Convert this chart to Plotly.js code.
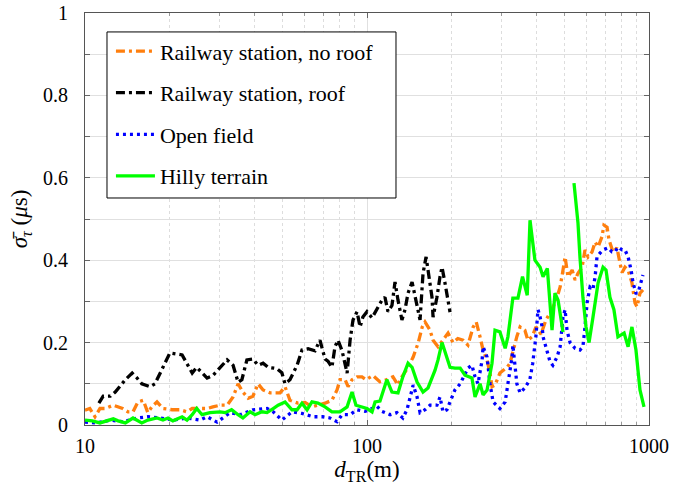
<!DOCTYPE html>
<html>
<head>
<meta charset="utf-8">
<script src="https://cdn.plot.ly/plotly-3.0.1.min.js"></script>
<style>
  html, body { margin: 0; padding: 0; background: #fff; }
  #chart { width: 678px; height: 493px; }
</style>
</head>
<body>
<div id="chart"></div>
<script>
// Mean RMS delay spread versus Tx-Rx distance for four environments.

// Railway station, no roof
const noRoofD = [10.0, 10.4, 10.85, 11.3, 11.8, 12.6, 13.6, 14.2, 14.8, 15.4, 16.1, 16.7, 17.3, 18.0, 18.9,
  20.4, 21.7, 23.0, 24.0, 25.2, 27.1, 28.4, 30.1, 31.9, 33.5, 34.9, 36.3, 37.9, 39.4, 41.1, 42.8, 45.3,
  49.2, 51.2, 53.3, 56.9, 60.3, 63.8, 67.0, 71.0, 75.1, 78.3, 80.2, 83.6, 85.7, 88.5, 92.2, 96.0, 99.2,
  105, 111, 117.6, 123.6, 128.8, 133, 139.8, 145.8, 152, 157, 160.6, 167.3, 171.5, 178.6, 186, 193.8,
  201.8, 210, 219, 228, 238, 244, 251.7, 258, 266.5, 273, 277.5, 284.4, 296, 303.6, 313.8, 321.5, 329,
  340, 349, 363, 372, 385, 397.5, 414, 431, 453, 472, 484, 495.5, 504, 516, 534, 547, 560, 579, 593,
  608, 628, 644, 660, 681, 692, 710, 721, 745, 770, 789, 803, 822, 843, 870, 892, 907, 929, 952];
const noRoofS = [0.036, 0.04, 0.02, 0.04, 0.04, 0.048, 0.04, 0.032, 0.032, 0.056, 0.06, 0.03, 0.045, 0.056, 0.04,
  0.037, 0.037, 0.032, 0.04, 0.04, 0.04, 0.044, 0.048, 0.048, 0.068, 0.10, 0.08, 0.065, 0.07, 0.10, 0.085, 0.078,
  0.078, 0.093, 0.06, 0.053, 0.055, 0.044, 0.048, 0.053, 0.06, 0.085, 0.11, 0.11, 0.093, 0.11, 0.117, 0.117, 0.11,
  0.12, 0.105, 0.11, 0.117, 0.097, 0.117, 0.14, 0.165, 0.20, 0.238, 0.25, 0.23, 0.206, 0.19, 0.206, 0.223,
  0.20, 0.21, 0.206, 0.194, 0.238, 0.25, 0.214, 0.182, 0.158, 0.126, 0.093, 0.097, 0.126, 0.133, 0.14, 0.15, 0.18,
  0.215, 0.238, 0.23, 0.206, 0.214, 0.238, 0.22, 0.255, 0.28, 0.31, 0.335, 0.376, 0.408, 0.36, 0.376, 0.352, 0.368, 0.383, 0.425,
  0.408, 0.42, 0.444, 0.432, 0.457, 0.485, 0.48, 0.45, 0.42, 0.43, 0.393, 0.37, 0.383, 0.376, 0.345, 0.296, 0.287, 0.32, 0.328];

// Railway station, roof
const roofD = [11.2, 11.6, 12.3, 12.8, 13.9, 14.7, 15.3, 15.9, 17.0, 17.7, 18.9, 20.0, 22.1, 23.0, 24.0, 24.9,
  26.0, 27.1, 28.4, 30.1, 31.9, 33.5, 34.9, 36.0, 37.5, 39.4, 41.1, 42.8, 44.6, 47.9, 49.9, 51.2, 53.3,
  56.5, 58.8, 61.8, 65.4, 68.1, 71.0, 72.7, 75.1, 77.0, 78.9, 81.6, 85.0, 87.1, 89.2, 92.2, 94.5, 96.7,
  100, 104.2, 109.5, 113, 115.8, 118.7, 122.6, 125.7, 128.8, 133, 136.4, 139.8, 144.5, 148, 154.2, 158,
  162, 164.6, 170, 171.5, 177, 181.5, 184.5, 189, 197];
const roofS = [0.053, 0.07, 0.07, 0.08, 0.11, 0.126, 0.114, 0.10, 0.093, 0.10, 0.14, 0.175, 0.17, 0.15, 0.126, 0.14,
  0.126, 0.114, 0.12, 0.14, 0.158, 0.145, 0.104, 0.11, 0.158, 0.16, 0.145, 0.15, 0.14, 0.137, 0.127, 0.10, 0.11,
  0.145, 0.182, 0.185, 0.18, 0.206, 0.16, 0.155, 0.14, 0.19, 0.206, 0.18, 0.126, 0.206, 0.255, 0.275, 0.238, 0.262,
  0.275, 0.26, 0.287, 0.303, 0.31, 0.275, 0.29, 0.347, 0.303, 0.255, 0.28, 0.32, 0.347, 0.31, 0.255, 0.368,
  0.408, 0.376, 0.31, 0.262, 0.31, 0.36, 0.383, 0.345, 0.274];

// Open field
const openD = [10.0, 11.0, 12.3, 13.6, 15.3, 16.7, 18.5, 20.5, 23.0, 25.6, 27.1, 29.4, 32.7, 35.5, 39.4, 44.2,
  46.5, 49.9, 54.2, 58.8, 64.4, 69.8, 73.9, 78.3, 81.6, 87.1, 92.2, 98.4, 104.2, 108.6, 113, 120.7, 127.7,
  134, 138.6, 142, 145.8, 150.5, 154.2, 160.6, 167.3, 177, 181.5, 186, 192, 197, 205, 214, 222.6, 228,
  235.6, 241.6, 247.5, 256, 258, 266.5, 273, 280, 296, 309, 316, 327, 329, 335, 340, 349, 363, 378, 387,
  397, 404, 411, 418, 421, 436, 446, 456, 472, 484, 495.5, 504, 512, 525, 547, 569, 583, 593, 603, 618,
  633, 644, 654, 670, 687, 716, 739, 758, 776, 803, 822, 843, 864, 878, 899, 914, 937, 952];
const openS = [0.007, 0.005, 0.012, 0.008, 0.017, 0.02, 0.017, 0.012, 0.017, 0.012, 0.02, 0.007, 0.03, 0.025, 0.037, 0.04,
  0.032, 0.012, 0.032, 0.028, 0.02, 0.02, 0.017, 0.008, 0.025, 0.025, 0.037, 0.033, 0.04, 0.045, 0.033, 0.025, 0.03,
  0.017, 0.037, 0.068, 0.097, 0.068, 0.03, 0.037, 0.048, 0.048, 0.068, 0.032, 0.037, 0.056, 0.085, 0.10, 0.126, 0.138,
  0.145, 0.117, 0.10, 0.158, 0.19, 0.165, 0.10, 0.056, 0.04, 0.056, 0.10, 0.165, 0.194, 0.15, 0.10, 0.078, 0.09, 0.11, 0.15,
  0.214, 0.28, 0.262, 0.238, 0.214, 0.175, 0.153, 0.145, 0.165, 0.19, 0.262, 0.28, 0.23, 0.20, 0.186, 0.182, 0.19, 0.238, 0.296, 0.335,
  0.33, 0.36, 0.408, 0.417, 0.425, 0.43, 0.42, 0.42, 0.432, 0.425, 0.425, 0.408, 0.376, 0.345, 0.32, 0.32, 0.345, 0.364];

// Hilly terrain (null marks a gap between measurement runs)
const hillyD = [10.0, 10.6, 11.3, 11.96, 12.6, 13.1, 13.9, 14.8, 15.9, 16.7, 18.0, 18.9, 19.7, 20.5, 22.1, 23.0,
  24.0, 24.9, 26.0, 27.75, 30.1, 31.4, 33.1, 34.9, 36.3, 38.5, 40.1, 42.4, 44.2, 46.5, 48.4, 51.2, 54.2,
  56.5, 58.8, 61.3, 63.8, 67.0, 71.0, 75.1, 80.2, 85.0, 88.5, 91.4, 96.0, 100, 104.2, 106.8, 111.2, 117.6,
  122.6, 128.8, 134, 139.8, 144.5, 150.5, 158, 164.6, 174.3, 178.6, 184.5, 192, 197, 205, 214, 222.6,
  235.6, 241.6, 251.7, 258, 266.5, 277.5, 284.4, 296, 309, 316, 329, 343, 356, 370, 378.5, 394, 411, 421,
  436, 453, 464, 476, 495.5, 520, 542, 560, 569, 583, 598, 613, 633, 660, 687, 704, 727, 751, 776, 816,
  843, 870, 899, 929, 960];
const hillyS = [0.012, 0.01, 0.005, 0.01, 0.015, 0.01, 0.005, 0.017, 0.005, 0.012, 0.017, 0.012, 0.017, 0.01, 0.02, 0.012,
  0.025, 0.04, 0.025, 0.03, 0.032, 0.03, 0.037, 0.025, 0.017, 0.032, 0.025, 0.032, 0.03, 0.04, 0.048, 0.056, 0.037,
  0.037, 0.053, 0.037, 0.056, 0.053, 0.044, 0.032, 0.032, 0.044, 0.08, 0.048, 0.044, 0.04, 0.032, 0.056, 0.058, 0.11,
  0.08, 0.078, 0.117, 0.15, 0.14, 0.104, 0.08, 0.09, 0.133, 0.158, 0.20, 0.163, 0.14, 0.138, 0.138, 0.121,
  0.114, 0.068, 0.10, 0.073, 0.085, 0.15, 0.23, 0.226, 0.186, 0.214, 0.308, 0.308, 0.36, 0.315, 0.497, 0.40, 0.383, 0.36,
  0.38, 0.23, 0.32, 0.303, 0.226, null, 0.587, 0.49, 0.408, 0.31, 0.238, 0.20, 0.262, 0.345, 0.383, 0.376, 0.31, 0.28, 0.214, 0.223,
  0.19, 0.238, 0.182, 0.085, 0.044];

const seriesNames = ['Railway station, no roof', 'Railway station, roof', 'Open field', 'Hilly terrain'];
const xTickLabels = ['10', '100', '1000'];

const serif = 'Liberation Serif';

function trace(x, y, name, color, dash, group) {
  return {
    type: 'scatter', mode: 'lines', x: x, y: y, name: name,
    legendgroup: group, connectgaps: false,
    line: { color: color, width: 3.3, dash: dash }
  };
}

const data = [
  trace(noRoofD, noRoofS, seriesNames[0], '#ff7f0e', '9px,4px,3px,4px', 'a'),
  trace(roofD, roofS, seriesNames[1], '#000000', '9px,4px,3px,4px', 'b'),
  trace(openD, openS, seriesNames[2], '#0000ff', '3px,4px', 'c'),
  trace(hillyD, hillyS, seriesNames[3], '#00ff00', 'solid', 'd')
];

const layout = {
  width: 678, height: 493,
  margin: { l: 85, r: 29, t: 13, b: 68 },
  paper_bgcolor: '#ffffff', plot_bgcolor: '#ffffff',
  font: { family: serif, size: 20, color: '#000' },
  showlegend: true,
  legend: {
    x: 0.046, y: 0.958, xanchor: 'left', yanchor: 'top',
    bgcolor: 'rgba(0,0,0,0)', borderwidth: 0,
    font: { family: serif, size: 22, color: '#000' },
    traceorder: 'grouped', tracegroupgap: 10,
    itemwidth: 39
  },
  // legend frame
  shapes: [{
    type: 'rect', xref: 'paper', yref: 'paper', layer: 'above',
    x0: 0.039, x1: 0.5514, y0: 0.551, y1: 0.954,
    line: { color: '#000', width: 1 }, fillcolor: '#ffffff'
  }],
  xaxis: {
    type: 'log', range: [1, 3],
    tickmode: 'array', tickvals: [10, 100, 1000], ticktext: xTickLabels,
    ticks: 'inside', ticklen: 5, tickcolor: '#666',
    showline: true, linecolor: '#555', linewidth: 1, mirror: 'ticks',
    showgrid: true, gridcolor: '#e0e0e0', gridwidth: 1,
    zeroline: false, ticklabelstandoff: 3,
    minor: {
      tickvals: [20, 30, 40, 50, 60, 70, 80, 90, 200, 300, 400, 500, 600, 700, 800, 900],
      ticks: 'inside', ticklen: 3, tickcolor: '#999',
      showgrid: true, gridcolor: '#dddddd', griddash: 'dot', gridwidth: 1
    },
    tickfont: { family: serif, size: 20 },
    title: { text: '<i>d</i><sub>TR</sub>(m)', font: { family: serif, size: 23 }, standoff: 0 }
  },
  yaxis: {
    range: [0, 1], dtick: 0.2, tick0: 0,
    ticks: 'inside', ticklen: 5, tickcolor: '#666',
    showline: true, linecolor: '#555', linewidth: 1, mirror: 'ticks',
    showgrid: true, gridcolor: '#e0e0e0', gridwidth: 1,
    zeroline: false, ticklabelstandoff: 12,
    minor: { dtick: 0.1, ticks: 'inside', ticklen: 5, tickcolor: '#666', showgrid: true, gridcolor: '#e0e0e0' },
    tickfont: { family: serif, size: 20 },
    title: { text: '<i>σ̄</i><sub><i>τ</i></sub> (<i>μ</i>s)', font: { family: serif, size: 23 }, standoff: 8 }
  }
};

Plotly.newPlot('chart', data, layout, { staticPlot: true, displayModeBar: false });
</script>
</body>
</html>
